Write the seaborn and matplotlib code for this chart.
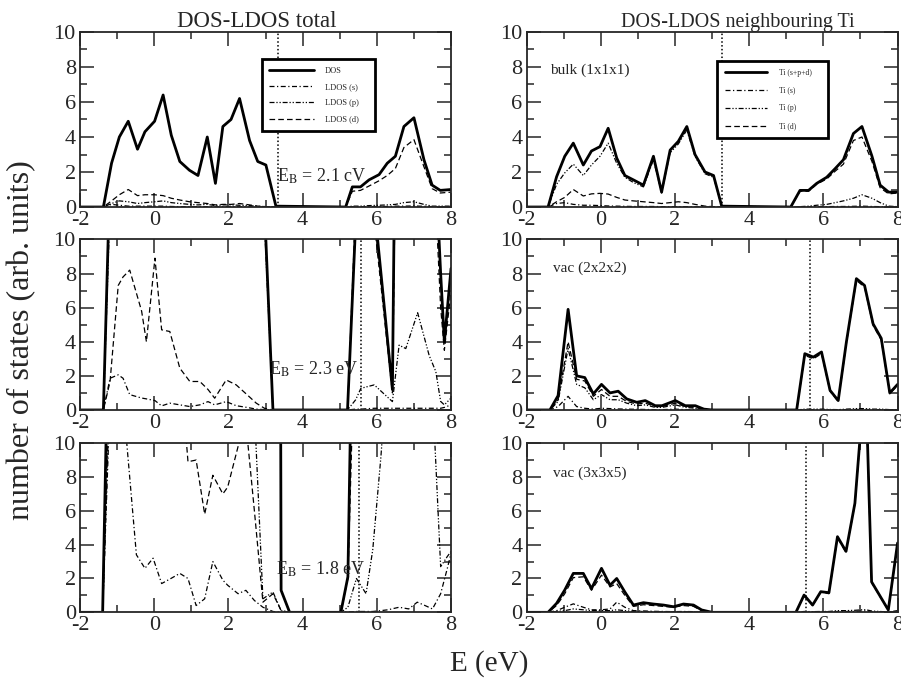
import numpy as np
import pandas as pd
import seaborn as sns
import matplotlib.pyplot as plt
from matplotlib.ticker import MultipleLocator

# ---- data ----
# top left: bulk, total
E_bulk_tot = [-2.0, -1.37, -1.15, -0.94, -0.70, -0.45, -0.25, 0.01, 0.24, 0.46, 0.69, 0.95, 1.18, 1.43, 1.65, 1.85,
              2.07, 2.30, 2.57, 2.79, 3.01, 3.28, 5.16, 5.34, 5.56, 5.79, 6.06, 6.28, 6.50, 6.73, 7.00, 7.27, 7.49, 7.71, 8.0]
dos_bulk_tot = [0, 0, 2.5, 4.0, 4.9, 3.3, 4.3, 4.9, 6.4, 4.1, 2.6, 2.1, 1.8, 4.0, 1.35, 4.6, 5.0, 6.2, 3.8, 2.6,
                2.4, 0.05, 0, 1.15, 1.15, 1.55, 1.85, 2.5, 2.9, 4.6, 5.1, 2.7, 1.25, 0.95, 1.0]
s_bulk_tot = [0, 0, 0.15, 0.1, 0.05, 0.05, 0.05, 0.05, 0.05, 0.03, 0.02, 0.02, 0.02, 0.02, 0.01, 0.02, 0.02, 0.02, 0.01, 0,
              0, 0, 0, 0.02, 0.02, 0.02, 0.03, 0.03, 0.05, 0.05, 0.06, 0.04, 0.02, 0.01, 0.01]
p_bulk_tot = [0, 0, 0.2, 0.35, 0.3, 0.2, 0.25, 0.3, 0.35, 0.25, 0.2, 0.15, 0.12, 0.15, 0.08, 0.12, 0.12, 0.1, 0.08, 0.04,
              0.02, 0, 0, 0.05, 0.05, 0.08, 0.1, 0.12, 0.15, 0.25, 0.3, 0.15, 0.05, 0.05, 0.05]
d_bulk_tot = [0, 0, 0.35, 0.7, 1.0, 0.65, 0.7, 0.7, 0.65, 0.5, 0.4, 0.3, 0.25, 0.2, 0.12, 0.15, 0.15, 0.2, 0.12, 0.05,
              0.02, 0, 0, 0.9, 0.95, 1.2, 1.5, 1.8, 2.2, 3.4, 3.85, 2.3, 1.05, 0.8, 0.85]

# top right: bulk, neighbouring Ti
E_bulk_ti = [-2.0, -1.42, -1.19, -0.97, -0.74, -0.47, -0.25, -0.02, 0.20, 0.43, 0.65, 0.88, 1.15, 1.42, 1.64, 1.87,
             2.09, 2.32, 2.54, 2.81, 3.04, 3.26, 5.12, 5.37, 5.60, 5.82, 6.09, 6.32, 6.54, 6.81, 7.04, 7.31, 7.53, 7.76, 8.0]
dos_bulk_ti = [0, 0, 1.73, 2.9, 3.65, 2.4, 3.2, 3.45, 4.5, 2.8, 1.8, 1.55, 1.25, 2.9, 0.85, 3.25, 3.75, 4.6, 3.0, 2.0,
               1.8, 0.05, 0, 0.95, 0.95, 1.35, 1.7, 2.2, 2.7, 4.2, 4.6, 2.9, 1.25, 0.85, 0.85]
s_bulk_ti = [0, 0, 0.2, 0.25, 0.15, 0.1, 0.1, 0.08, 0.06, 0.05, 0.04, 0.03, 0.03, 0.03, 0.02, 0.02, 0.02, 0.02, 0.01, 0,
             0, 0, 0, 0.01, 0.01, 0.02, 0.02, 0.03, 0.03, 0.04, 0.05, 0.03, 0.02, 0.01, 0.01]
p_bulk_ti = [0, 0, 1.3, 1.95, 2.45, 1.8, 2.4, 2.9, 3.65, 2.5, 1.7, 1.4, 1.15, 2.7, 0.8, 3.1, 3.6, 4.4, 2.9, 1.9,
             1.7, 0.05, 0, 0.02, 0.05, 0.1, 0.15, 0.25, 0.35, 0.5, 0.7, 0.5, 0.25, 0.05, 0.02]
d_bulk_ti = [0, 0, 0.3, 0.55, 1.0, 0.63, 0.75, 0.78, 0.74, 0.55, 0.4, 0.35, 0.3, 0.25, 0.2, 0.25, 0.3, 0.25, 0.15, 0.05,
             0.02, 0, 0, 0.9, 0.9, 1.3, 1.6, 2.05, 2.45, 3.8, 4.0, 2.6, 1.1, 0.75, 0.8]

# middle left: vac (2x2x2), total
E_v222_tot = [-2.0, -1.37, -1.19, -0.97, -0.84, -0.66, -0.34, -0.21, 0.02, 0.20, 0.42, 0.69, 0.96, 1.23, 1.45, 1.63,
              1.94, 2.21, 2.50, 2.75, 2.97, 3.20, 5.21, 5.43, 5.57, 5.93, 6.42, 6.60, 6.78, 7.10, 7.41, 7.59, 7.72, 7.82, 8.0]
dos_v222_tot = [0, 0, 14, 25, 30, 35, 30, 28, 35, 30, 25, 22, 20, 18, 20, 18, 20, 22, 20, 18,
                12, 0, 0, 11, 25, 12, 1.2, 40, 35, 30, 20, 14, 8.0, 4.0, 8.3]
s_v222_tot = [0, 0, 1.86, 2.06, 1.86, 0.9, 0.7, 0.65, 0.55, 0.24, 0.4, 0.3, 0.2, 0.3, 0.49, 0.3, 0.49, 0.25, 0.15, 0.05,
              0.02, 0, 0, 0.05, 0.05, 0.1, 0.1, 0.1, 0.1, 0.1, 0.1, 0.1, 0.1, 0.15, 0.3]
p_v222_tot = [0, 0, 12, 20, 20, 20, 20, 20, 20, 20, 20, 20, 20, 20, 20, 20, 20, 20, 20, 15,
              11, 0, 0, 0.6, 1.27, 1.47, 0.49, 3.8, 3.6, 5.7, 3.2, 2.25, 0.5, 0.3, 0.7]
d_v222_tot = [0, 0, 1.67, 7.3, 7.8, 8.2, 5.8, 4.0, 8.9, 4.7, 4.6, 2.45, 1.67, 1.67, 1.2, 0.69, 1.76, 1.47, 0.9, 0.4,
              0.1, 0, 0, 12, 20, 11, 1.0, 30, 25, 25, 15, 12, 6.0, 3.5, 7.0]

# middle right: vac (2x2x2), neighbouring Ti
E_v222_ti = [-2.0, -1.37, -1.15, -0.88, -0.65, -0.43, -0.20, 0.02, 0.25, 0.47, 0.70, 0.97, 1.20, 1.47, 1.65, 2.01,
             2.28, 2.55, 2.78, 3.00, 5.28, 5.50, 5.73, 5.95, 6.18, 6.40, 6.62, 6.89, 7.11, 7.34, 7.56, 7.79, 8.0]
dos_v222_ti = [0, 0, 0.84, 5.9, 2.0, 1.9, 0.94, 1.5, 1.0, 1.1, 0.65, 0.45, 0.55, 0.25, 0.25, 0.55,
               0.25, 0.25, 0.05, 0, 0, 3.3, 3.1, 3.4, 1.15, 0.55, 3.98, 7.7, 7.3, 5.05, 4.2, 1.0, 1.5]
s_v222_ti = [0, 0, 0.2, 0.8, 0.2, 0.1, 0.05, 0.1, 0.08, 0.06, 0.05, 0.04, 0.03, 0.02, 0.02, 0.05,
             0.02, 0.02, 0, 0, 0, 0.02, 0.02, 0.02, 0.01, 0.01, 0.02, 0.03, 0.03, 0.02, 0.02, 0.01, 0.01]
p_v222_ti = [0, 0, 0.5, 3.6, 1.5, 1.3, 0.6, 0.9, 0.6, 0.6, 0.4, 0.25, 0.3, 0.15, 0.15, 0.3,
             0.15, 0.1, 0.02, 0, 0, 0.05, 0.05, 0.05, 0.03, 0.02, 0.05, 0.08, 0.08, 0.05, 0.05, 0.02, 0.02]
d_v222_ti = [0, 0, 0.6, 4.0, 1.8, 1.7, 0.8, 1.2, 0.8, 0.8, 0.5, 0.35, 0.4, 0.2, 0.2, 0.4,
             0.2, 0.15, 0.03, 0, 0, 3.2, 3.0, 3.3, 1.1, 0.5, 3.9, 7.6, 7.2, 4.95, 4.1, 0.95, 1.45]

# bottom left: vac (3x3x5), total
E_v335_tot = [-2.0, -1.39, -1.20, -0.97, -0.74, -0.48, -0.25, -0.03, 0.20, 0.45, 0.69, 0.91, 1.13, 1.36, 1.58, 1.85,
              1.98, 2.26, 2.47, 2.70, 2.93, 3.20, 3.42, 3.65, 5.03, 5.22, 5.45, 5.71, 5.89, 6.11, 6.30, 6.60, 6.86,
              7.09, 7.30, 7.50, 7.72, 7.90, 8.0]
dos_v335_tot = [0, 0, 21, 30, 35, 40, 40, 40, 40, 40, 40, 40, 40, 40, 40, 40,
                40, 40, 40, 80, 150, 190, 1.3, 0, 0, 2.1, 32, 40, 40, 40, 40, 40, 40,
                40, 40, 40, 40, 40, 40]
s_v335_tot = [0, 0, 12, 16, 10, 3.4, 2.6, 3.2, 1.7, 2.0, 2.3, 2.0, 0.4, 0.8, 3.0, 1.9,
              1.6, 1.1, 1.3, 0.7, 0.3, 0.05, 0, 0, 0, 0.02, 0.05, 0.05, 0.05, 0.1, 0.15, 0.3, 0.2,
              0.6, 0.4, 0.2, 1.1, 2.6, 3.5]
p_v335_tot = [0, 0, 13, 20, 20, 20, 20, 20, 20, 20, 20, 20, 20, 20, 20, 20,
              20, 20, 20, 12, 0.8, 1.2, 0.1, 0, 0, 0.3, 2.0, 1.1, 3.7, 9.2, 15, 20, 20,
              20, 20, 13, 2.7, 3.3, 3.6]
d_v335_tot = [0, 0, 15, 25, 30, 30, 30, 30, 25, 20, 15, 8.9, 9.0, 5.8, 8.1, 7.0,
              7.4, 9.8, 11.2, 6.0, 0.6, 1.1, 0.1, 0, 0, 2.0, 20, 30, 30, 30, 30, 30, 30,
              30, 30, 30, 30, 30, 30]

# bottom right: vac (3x3x5), neighbouring Ti
E_v335_ti = [-2.0, -1.42, -1.19, -0.97, -0.74, -0.47, -0.25, 0.02, 0.25, 0.43, 0.65, 0.88, 1.15, 1.42, 1.69, 1.96,
             2.23, 2.50, 2.72, 3.00, 5.26, 5.48, 5.71, 5.93, 6.15, 6.38, 6.61, 6.85, 7.05, 7.15, 7.30, 7.75, 8.0]
dos_v335_ti = [0, 0, 0.53, 1.32, 2.3, 2.3, 1.4, 2.6, 1.6, 2.0, 1.2, 0.43, 0.57, 0.49, 0.43, 0.33,
               0.49, 0.43, 0.14, 0, 0, 1.02, 0.43, 1.22, 1.16, 4.47, 3.6, 6.45, 12, 13, 1.8, 0.14, 4.1]
s_v335_ti = [0, 0, 0.1, 0.3, 0.5, 0.3, 0.15, 0.15, 0.2, 0.6, 0.3, 0.1, 0.08, 0.06, 0.05, 0.04,
             0.05, 0.04, 0.02, 0, 0, 0.02, 0.02, 0.03, 0.03, 0.05, 0.05, 0.05, 0.08, 0.08, 0.03, 0.01, 0.05]
p_v335_ti = [0, 0, 0.05, 0.1, 0.2, 0.15, 0.1, 0.1, 0.1, 0.15, 0.1, 0.05, 0.05, 0.04, 0.03, 0.03,
             0.03, 0.03, 0.01, 0, 0, 0.05, 0.04, 0.05, 0.05, 0.1, 0.1, 0.12, 0.15, 0.15, 0.08, 0.02, 0.1]
d_v335_ti = [0, 0, 0.4, 1.1, 2.05, 2.1, 1.3, 2.2, 1.5, 1.7, 1.0, 0.35, 0.45, 0.4, 0.35, 0.3,
             0.4, 0.35, 0.1, 0, 0, 1.0, 0.4, 1.2, 1.1, 4.4, 3.55, 6.4, 11.8, 12.8, 1.75, 0.12, 4.0]

# band edge (dotted) positions and gap labels
edge_tot = [3.33, 5.56, 5.52]
edge_ti = [3.26, 5.65, 5.54]
gap_labels = ["E$_\\mathrm{B}$ = 2.1 cV", "E$_\\mathrm{B}$ = 2.3 eV", "E$_\\mathrm{B}$ = 1.8 eV"]
gap_pos = [(3.31, 1.45), (3.10, 2.1), (3.28, 2.2)]
cell_labels = ["bulk (1x1x1)", "vac (2x2x2)", "vac (3x3x5)"]
cell_pos = [(-1.37, 7.8), (-1.28, 8.3), (-1.28, 8.2)]
legend_tot = ["DOS", "LDOS (s)", "LDOS (p)", "LDOS (d)"]
legend_ti = ["Ti (s+p+d)", "Ti (s)", "Ti (p)", "Ti (d)"]

panels_tot = [(E_bulk_tot, dos_bulk_tot, s_bulk_tot, p_bulk_tot, d_bulk_tot),
              (E_v222_tot, dos_v222_tot, s_v222_tot, p_v222_tot, d_v222_tot),
              (E_v335_tot, dos_v335_tot, s_v335_tot, p_v335_tot, d_v335_tot)]
panels_ti = [(E_bulk_ti, dos_bulk_ti, s_bulk_ti, p_bulk_ti, d_bulk_ti),
             (E_v222_ti, dos_v222_ti, s_v222_ti, p_v222_ti, d_v222_ti),
             (E_v335_ti, dos_v335_ti, s_v335_ti, p_v335_ti, d_v335_ti)]

sns.set_style("ticks")
plt.rcParams['font.family'] = ['Liberation Serif', 'DejaVu Serif']
plt.rcParams['mathtext.fontset'] = 'stix'
plt.rcParams['axes.unicode_minus'] = False

styles = [dict(linestyle='-', linewidth=2.0),
          dict(linestyle=(0, (4, 2, 1, 2)), linewidth=0.9),
          dict(linestyle=(0, (4, 1.5, 1, 1.5, 1, 1.5)), linewidth=0.9),
          dict(linestyle=(0, (4.5, 2.5)), linewidth=0.9)]

fig = plt.figure(figsize=(9.01, 6.85), dpi=100)
lefts = [0.0888, 0.5844]
width = 0.4118
rows = [(0.6978, 0.2555), (0.4015, 0.249), (0.1061, 0.247)]


def draw_panel(ax, data, edge):
    E = data[0]
    for vals, st in zip(data[1:], styles):
        df = pd.DataFrame({"E": E, "n": vals})
        sns.lineplot(data=df, x="E", y="n", ax=ax, color="black", legend=False, sort=False, **st)
    ax.axvline(edge, color="black", linestyle=(0, (1, 1.5)), linewidth=1.1)
    ax.set_xlim(-2, 8)
    ax.set_ylim(0, 10)
    ax.set_xticks([-2, 0, 2, 4, 6, 8])
    ax.set_yticks([0, 2, 4, 6, 8, 10])
    ax.xaxis.set_minor_locator(MultipleLocator(1))
    ax.yaxis.set_minor_locator(MultipleLocator(1))
    ax.tick_params(which="both", direction="in", top=True, right=True, width=1.1, labelsize=16)
    ax.tick_params(which="major", length=10, pad=3)
    ax.tick_params(which="minor", length=5)
    ax.set_xlabel("")
    ax.set_ylabel("")
    for sp in ax.spines.values():
        sp.set_linewidth(1.3)


for i, (bottom, h) in enumerate(rows):
    ax_l = fig.add_axes([lefts[0], bottom, width, h])
    draw_panel(ax_l, panels_tot[i], edge_tot[i])
    ax_l.text(gap_pos[i][0], gap_pos[i][1], gap_labels[i], fontsize=13, va="baseline", ha="left")

    ax_r = fig.add_axes([lefts[1], bottom, width, h])
    draw_panel(ax_r, panels_ti[i], edge_ti[i])
    ax_r.text(cell_pos[i][0], cell_pos[i][1], cell_labels[i], fontsize=11, va="center", ha="left")

    if i == 0:
        leg = ax_l.legend(handles=ax_l.lines[:4], labels=legend_tot, loc="upper left",
                          bbox_to_anchor=(0.49, 0.435, 0.305, 0.41), mode="expand", borderaxespad=0,
                          fontsize=6, handlelength=5.4, handletextpad=1.3, labelspacing=1.0,
                          borderpad=0.9, fancybox=False, edgecolor="black", framealpha=1)
        leg.get_frame().set_linewidth(2)
        leg = ax_r.legend(handles=ax_r.lines[:4], labels=legend_ti, loc="upper left",
                          bbox_to_anchor=(0.513, 0.40, 0.30, 0.435), mode="expand", borderaxespad=0,
                          fontsize=5.5, handlelength=5.6, handletextpad=1.5, labelspacing=1.3,
                          borderpad=1.0, fancybox=False, edgecolor="black", framealpha=1)
        leg.get_frame().set_linewidth(2)

fig.text(0.285, 0.960, "DOS-LDOS total", fontsize=16.5, ha="center", va="baseline")
fig.text(0.819, 0.961, "DOS-LDOS neighbouring Ti", fontsize=14.5, ha="center", va="baseline")
fig.text(0.024, 0.504, "number of states (arb. units)", fontsize=23, rotation=90, ha="center", va="center")
fig.text(0.543, 0.031, "E (eV)", fontsize=21, ha="center", va="center")

fig.savefig("out.png", dpi=100)
